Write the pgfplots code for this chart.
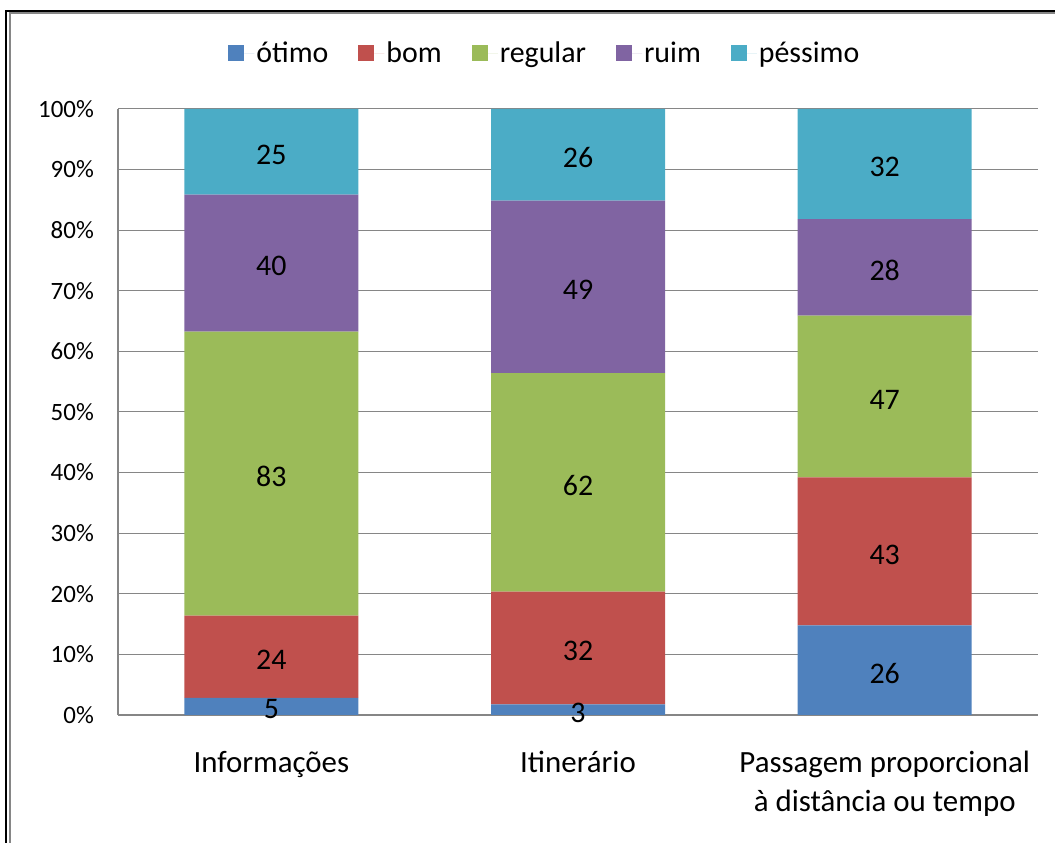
\documentclass[border=0pt]{standalone}
\usepackage{fontspec}
\setmainfont{Carlito}
\usepackage{pgfplots}
\usepackage{pgfplotstable}
\pgfplotsset{compat=1.18}

\definecolor{cOtimo}{HTML}{4F81BD}
\definecolor{cBom}{HTML}{C0504D}
\definecolor{cRegular}{HTML}{9BBB59}
\definecolor{cRuim}{HTML}{8064A2}
\definecolor{cPessimo}{HTML}{4BACC6}
\definecolor{gridgray}{HTML}{868686}

% respostas por item avaliado
\pgfplotstableread{
x otimo bom regular ruim pessimo
0 5  24 83 40 25
1 3  32 62 49 26
2 26 43 47 28 32
}\avaliacao
\pgfplotstablecreatecol[create col/expr={\thisrow{otimo}+\thisrow{bom}+\thisrow{regular}+\thisrow{ruim}+\thisrow{pessimo}}]{total}\avaliacao
% participação de cada resposta (%)
\pgfplotstablecreatecol[create col/expr={100*\thisrow{otimo}/\thisrow{total}}]{potimo}\avaliacao
\pgfplotstablecreatecol[create col/expr={100*\thisrow{bom}/\thisrow{total}}]{pbom}\avaliacao
\pgfplotstablecreatecol[create col/expr={100*\thisrow{regular}/\thisrow{total}}]{pregular}\avaliacao
\pgfplotstablecreatecol[create col/expr={100*\thisrow{ruim}/\thisrow{total}}]{pruim}\avaliacao
\pgfplotstablecreatecol[create col/expr={100*\thisrow{pessimo}/\thisrow{total}}]{ppessimo}\avaliacao
% centro de cada segmento, para os rótulos
\pgfplotstablecreatecol[create col/expr={\thisrow{potimo}/2}]{motimo}\avaliacao
\pgfplotstablecreatecol[create col/expr={\thisrow{potimo}+\thisrow{pbom}/2}]{mbom}\avaliacao
\pgfplotstablecreatecol[create col/expr={\thisrow{potimo}+\thisrow{pbom}+\thisrow{pregular}/2}]{mregular}\avaliacao
\pgfplotstablecreatecol[create col/expr={\thisrow{potimo}+\thisrow{pbom}+\thisrow{pregular}+\thisrow{pruim}/2}]{mruim}\avaliacao
\pgfplotstablecreatecol[create col/expr={\thisrow{potimo}+\thisrow{pbom}+\thisrow{pregular}+\thisrow{pruim}+\thisrow{ppessimo}/2}]{mpessimo}\avaliacao

\pgfplotsset{
  moldura/.style={
    at={(118bp,128bp)}, anchor=south west,
    scale only axis, width=920bp, height=606bp,
    xmin=-0.5, xmax=2.5, ymin=0, ymax=100,
    enlargelimits=false, clip=false,
  },
}

\begin{document}
\begin{tikzpicture}[x=1bp,y=1bp]
\path[use as bounding box] (0,0) rectangle (1055,843);
% moldura do gráfico
\draw[black, line width=2bp] (6,0) -- (6,832) -- (1055,832);
\draw[gridgray, line width=2bp] (9.5,0) -- (9.5,829.8) -- (1055,829.8);
\begin{axis}[
  moldura,
  ybar stacked, bar width=174bp,
  xtick={0,1,2},
  xticklabels={Informações, Itinerário, {Passagem proporcional\\à distância ou tempo}},
  ytick={0,10,...,100},
  yticklabel={\pgfmathprintnumber{\tick}\%},
  /pgf/number format/assume math mode=true,
  ymajorgrids, grid style={gridgray, line width=1bp},
  axis lines*=left,
  axis line style={gridgray, line width=1.3bp},
  major tick length=0pt,
  x tick label style={font=\fontsize{31}{39}\selectfont, align=center, anchor=north, inner sep=0pt, yshift=-36bp},
  y tick label style={font=\fontsize{25}{30}\selectfont, anchor=east, inner sep=0pt, xshift=-24bp},
  legend style={at={(0.464,1.0919)}, anchor=center, draw=none, inner sep=0pt,
    font=\fontsize{30}{36}\selectfont,
    /tikz/every even column/.append style={column sep=28bp}},
  legend columns=-1,
  legend image code/.code={\fill[#1] (0bp,-8bp) rectangle (16bp,8bp); \path (16bp,0bp) -- (26bp,0bp);},
]
\addplot[fill=cOtimo, draw=none] table[x=x, y=potimo] {\avaliacao};
\addplot[fill=cBom, draw=none] table[x=x, y=pbom] {\avaliacao};
\addplot[fill=cRegular, draw=none] table[x=x, y=pregular] {\avaliacao};
\addplot[fill=cRuim, draw=none] table[x=x, y=pruim] {\avaliacao};
\addplot[fill=cPessimo, draw=none] table[x=x, y=ppessimo] {\avaliacao};
\legend{ótimo, bom, regular, ruim, péssimo}
\end{axis}
% rótulos com o número de respostas, no centro de cada segmento
\begin{axis}[
  moldura, hide axis,
  nodes near coords={\pgfplotspointmeta},
  point meta=explicit symbolic,
  every node near coord/.append style={anchor=center, black, inner sep=0pt,
    yshift=-3bp, font=\fontsize{30}{36}\selectfont},
]
\addplot[draw=none, mark=none] table[x=x, y=motimo, meta=otimo] {\avaliacao};
\addplot[draw=none, mark=none] table[x=x, y=mbom, meta=bom] {\avaliacao};
\addplot[draw=none, mark=none] table[x=x, y=mregular, meta=regular] {\avaliacao};
\addplot[draw=none, mark=none] table[x=x, y=mruim, meta=ruim] {\avaliacao};
\addplot[draw=none, mark=none] table[x=x, y=mpessimo, meta=pessimo] {\avaliacao};
\end{axis}
\end{tikzpicture}
\end{document}
